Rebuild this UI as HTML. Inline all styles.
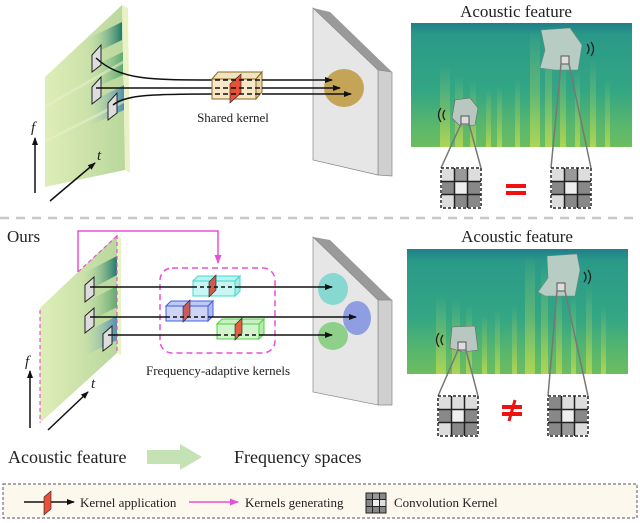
<!DOCTYPE html>
<html><head><meta charset="utf-8"><style>
html,body{margin:0;padding:0;background:#fff;width:640px;height:523px;overflow:hidden}
svg{display:block}
text{font-family:"Liberation Serif",serif;fill:#222}
</style></head><body>
<svg width="640" height="523" viewBox="0 0 640 523" xmlns="http://www.w3.org/2000/svg">
<defs>
<linearGradient id="spec" x1="0" y1="0" x2="0" y2="1">
<stop offset="0" stop-color="#1f7f8a"/><stop offset="0.1" stop-color="#2a9a88"/><stop offset="0.55" stop-color="#33a684"/><stop offset="0.85" stop-color="#5cb86a"/><stop offset="1" stop-color="#6cbc60"/>
</linearGradient>
<linearGradient id="stripe" x1="0" y1="0" x2="0" y2="1">
<stop offset="0" stop-color="#c8e070" stop-opacity="0"/><stop offset="0.5" stop-color="#a8d060" stop-opacity="0.35"/><stop offset="1" stop-color="#c8e050" stop-opacity="0.7"/>
</linearGradient>
<linearGradient id="slab" x1="0" y1="0" x2="1" y2="0">
<stop offset="0" stop-color="#dfeeb8"/><stop offset="1" stop-color="#b9d79c"/>
</linearGradient>
<linearGradient id="band1" x1="0" y1="0" x2="1" y2="0"><stop offset="0" stop-color="#cfe3b0" stop-opacity="0"/><stop offset="1" stop-color="#1f7a6a"/></linearGradient>
<linearGradient id="band2" x1="0" y1="0" x2="1" y2="0"><stop offset="0" stop-color="#cfe3b0" stop-opacity="0"/><stop offset="1" stop-color="#5ea870"/></linearGradient>
<linearGradient id="band3" x1="0" y1="0" x2="1" y2="0"><stop offset="0" stop-color="#cfe3b0" stop-opacity="0"/><stop offset="1" stop-color="#4f8fb0"/></linearGradient>
<marker id="ah" markerWidth="8" markerHeight="8" refX="7" refY="4" orient="auto" markerUnits="userSpaceOnUse"><path d="M0,1 L8,4 L0,7z" fill="#111"/></marker>
<marker id="ahp" markerWidth="9" markerHeight="9" refX="8" refY="4.5" orient="auto" markerUnits="userSpaceOnUse"><path d="M0,1 L9,4.5 L0,8z" fill="#e84fd8"/></marker>
</defs>

<!-- ===== TOP LEFT SLAB ===== -->
<polygon points="122,5 128,8 130,173 125,170" fill="#e9f2c4"/>
<polygon points="45,77 122,5 125,170 45,187" fill="url(#slab)"/>
<polygon points="85,40 122,22 122,40 85,58" fill="url(#band1)"/>
<polygon points="85,70 123,52 123,75 85,92" fill="url(#band2)"/>
<polygon points="85,105 124,85 124,110 85,128" fill="url(#band3)"/>
<polygon points="45,105 124,60 124,63 45,108" fill="#e6f0c8" opacity=".6"/>
<polygon points="45,140 124,100 124,103 45,143" fill="#e6f0c8" opacity=".6"/>
<polygon points="92,55 101,45 101,65 92,72" fill="#ddd" stroke="#222"/>
<polygon points="92,87 101,77 101,97 92,104" fill="#ddd" stroke="#222"/>
<polygon points="108,103 117,93 117,113 108,120" fill="#ddd" stroke="#222"/>
<line x1="35" y1="193" x2="35" y2="138" stroke="#111" stroke-width="1.5" marker-end="url(#ah)"/>
<text x="31" y="132" font-size="15" font-style="italic">f</text>
<line x1="50" y1="201" x2="95" y2="163" stroke="#111" stroke-width="1.5" marker-end="url(#ah)"/>
<text x="97" y="160" font-size="15" font-style="italic">t</text>
<path d="M96,58 C120,80 150,80 215,80" fill="none" stroke="#111" stroke-width="1.5"/>
<path d="M96,88 L215,88" fill="none" stroke="#111" stroke-width="1.5"/>
<path d="M113,105 C125,95 150,94 215,94" fill="none" stroke="#111" stroke-width="1.5"/>
<polygon points="313,8 330,12 392,72 378,70" fill="#9a9a9a"/>
<polygon points="378,70 392,72 392,176 378,175" fill="#cfcfcf" stroke="#888" stroke-width=".7"/>
<polygon points="313,8 378,70 378,175 313,160" fill="#e6e6e6" stroke="#888" stroke-width=".7"/>
<ellipse cx="344" cy="88" rx="20" ry="19" fill="#c4a558"/>
<polygon points="212,79 218,72 262,72 256,79" fill="#f2e3c0" stroke="#8a6a20"/>
<polygon points="256,79 262,72 262,92 256,99" fill="#e8d4a8" stroke="#8a6a20"/>
<rect x="212" y="79" width="44" height="20" fill="#f6e8c8" stroke="#8a6a20"/>
<polygon points="230,84 241,74 241,93 230,103" fill="#e8503a" stroke="#222" stroke-width=".6"/>
<path d="M215,80 H262 M215,88 H262 M215,94 H262" fill="none" stroke="#111" stroke-width="1.5" stroke-dasharray="5,3"/>
<path d="M262,80 L332,80" stroke="#111" stroke-width="1.5" marker-end="url(#ah)"/>
<path d="M262,88 L340,88" stroke="#111" stroke-width="1.5" marker-end="url(#ah)"/>
<path d="M262,94 L351,94" stroke="#111" stroke-width="1.5" marker-end="url(#ah)"/>
<text x="233" y="122" font-size="13" text-anchor="middle">Shared kernel</text>

<!-- ===== TOP RIGHT ===== -->
<text x="516" y="17" font-size="17" text-anchor="middle">Acoustic feature</text>
<rect x="411" y="23" width="221" height="124" fill="url(#spec)"/>
<g fill="url(#stripe)">
<rect x="440" y="65" width="10" height="82"/><rect x="455" y="75" width="8" height="72"/><rect x="470" y="80" width="6" height="67"/><rect x="486" y="90" width="5" height="57"/><rect x="497" y="85" width="5" height="62"/><rect x="530" y="30" width="10" height="117"/><rect x="545" y="40" width="7" height="107"/><rect x="560" y="60" width="6" height="87"/><rect x="575" y="70" width="5" height="77"/><rect x="590" y="60" width="6" height="87"/><rect x="605" y="80" width="5" height="67"/><rect x="515" y="80" width="5" height="67"/>
</g>
<polygon points="541,30 570,28 582,45 578,70 555,70 540,68 545,50" fill="#b7cdc4" stroke="#6a8a80" stroke-width=".6"/>
<path d="M587,44 q4,5 0,10 M591,42 q5,7 0,14" stroke="#222" fill="none" stroke-width="1.3"/>
<rect x="561" y="56" width="8" height="8" fill="#ddd" stroke="#555"/>
<polygon points="455,100 470,98 478,108 475,125 460,126 452,118" fill="#b8c8c0" stroke="#666" stroke-width=".6"/>
<path d="M445,110 q-4,5 0,10 M441,108 q-5,7 0,14" stroke="#222" fill="none" stroke-width="1.3"/>
<rect x="461" y="116" width="8" height="8" fill="#ddd" stroke="#555"/>
<path d="M461,124 L441,168 M469,124 L481,168 M561,64 L551,168 M569,64 L591,168" stroke="#777" stroke-width="1.5" fill="none"/>
<g transform="translate(441,168)">
<rect width="40" height="40" fill="#fff"/>
<rect x="1" y="1" width="12" height="12" fill="#ddd"/><rect x="14" y="1" width="12" height="12" fill="#999"/><rect x="27" y="1" width="12" height="12" fill="#ddd"/>
<rect x="1" y="14" width="12" height="12" fill="#888"/><rect x="14" y="14" width="12" height="12" fill="#eee"/><rect x="27" y="14" width="12" height="12" fill="#888"/>
<rect x="1" y="27" width="12" height="12" fill="#ddd"/><rect x="14" y="27" width="12" height="12" fill="#888"/><rect x="27" y="27" width="12" height="12" fill="#888"/>
<path d="M13.5,0 V40 M26.5,0 V40 M0,13.5 H40 M0,26.5 H40" stroke="#222" stroke-width="1.5"/>
<rect width="40" height="40" fill="none" stroke="#222" stroke-width="1.5" stroke-dasharray="3,2"/>
</g>
<g transform="translate(551,168)">
<rect width="40" height="40" fill="#fff"/>
<rect x="1" y="1" width="12" height="12" fill="#ddd"/><rect x="14" y="1" width="12" height="12" fill="#999"/><rect x="27" y="1" width="12" height="12" fill="#ddd"/>
<rect x="1" y="14" width="12" height="12" fill="#888"/><rect x="14" y="14" width="12" height="12" fill="#eee"/><rect x="27" y="14" width="12" height="12" fill="#888"/>
<rect x="1" y="27" width="12" height="12" fill="#ddd"/><rect x="14" y="27" width="12" height="12" fill="#888"/><rect x="27" y="27" width="12" height="12" fill="#888"/>
<path d="M13.5,0 V40 M26.5,0 V40 M0,13.5 H40 M0,26.5 H40" stroke="#222" stroke-width="1.5"/>
<rect width="40" height="40" fill="none" stroke="#222" stroke-width="1.5" stroke-dasharray="3,2"/>
</g>
<rect x="506" y="184" width="20" height="4" fill="#ee1111"/><rect x="506" y="191" width="20" height="4" fill="#ee1111"/>

<line x1="0" y1="218" x2="640" y2="218" stroke="#c8c8c8" stroke-width="2.5" stroke-dasharray="9,7"/>

<!-- ===== BOTTOM LEFT SLAB ===== -->
<text x="7" y="242" font-size="17">Ours</text>
<polygon points="117,235 121,238 121,355 117,353" fill="#e9f2c4"/>
<polygon points="40,308 117,235 117,353 40,423" fill="url(#slab)"/>
<polygon points="80,275 117,256 117,275 80,295" fill="url(#band1)"/>
<polygon points="80,305 117,286 117,307 80,326" fill="url(#band2)"/>
<polygon points="80,335 117,316 117,340 80,358" fill="url(#band3)"/>
<path d="M40,310 L40,423 M117,236 L78,272" stroke="#e84fd8" stroke-width="1.2" stroke-dasharray="4,3" fill="none"/>
<path d="M117,235 V353" stroke="#e84fd8" stroke-width="1.2" stroke-dasharray="4,3"/>
<polygon points="85,285 94,277 94,295 85,302" fill="#ddd" stroke="#222"/>
<polygon points="85,316 94,308 94,326 85,333" fill="#ddd" stroke="#222"/>
<polygon points="103,334 112,326 112,344 103,351" fill="#ddd" stroke="#222"/>
<line x1="30" y1="428" x2="30" y2="371" stroke="#111" stroke-width="1.5" marker-end="url(#ah)"/>
<text x="25" y="366" font-size="15" font-style="italic">f</text>
<line x1="48" y1="430" x2="88" y2="392" stroke="#111" stroke-width="1.5" marker-end="url(#ah)"/>
<text x="91" y="388" font-size="15" font-style="italic">t</text>
<path d="M78,272 V231 H218 V263" fill="none" stroke="#e84fd8" stroke-width="1.5" marker-end="url(#ahp)"/>
<rect x="160" y="268" width="115" height="85" rx="12" fill="none" stroke="#e84fd8" stroke-width="1.5" stroke-dasharray="6,4"/>
<polygon points="313,237 330,240 392,300 378,300" fill="#9a9a9a"/>
<polygon points="378,300 392,300 392,405 378,405" fill="#cfcfcf" stroke="#888" stroke-width=".7"/>
<polygon points="313,237 378,300 378,405 313,392" fill="#e6e6e6" stroke="#888" stroke-width=".7"/>
<ellipse cx="333" cy="289" rx="15" ry="16" fill="#86d8d0"/>
<ellipse cx="357" cy="318" rx="14" ry="17" fill="#8f9ee0"/>
<ellipse cx="333" cy="336" rx="15" ry="14" fill="#8ed08a"/>
<g stroke-width="1">
<polygon points="193,281 198,276 240,276 235,281" fill="#b8f4f0" stroke="#40d8d0"/>
<polygon points="235,281 240,276 240,291 235,296" fill="#a8ece6" stroke="#40d8d0"/>
<rect x="193" y="281" width="42" height="15" fill="#c8f6f2" stroke="#40d8d0"/>
<polygon points="209,282 216,275 216,290 209,297" fill="#d05a50" stroke="#222" stroke-width=".6"/>
<polygon points="166,306 171,301 213,301 208,306" fill="#c0c8f4" stroke="#4060e0"/>
<polygon points="208,306 213,301 213,316 208,321" fill="#b0b8f0" stroke="#4060e0"/>
<rect x="166" y="306" width="42" height="15" fill="#cdd4f6" stroke="#4060e0"/>
<polygon points="183,307 190,300 190,315 183,322" fill="#c85a60" stroke="#222" stroke-width=".6"/>
<polygon points="217,324 222,319 264,319 259,324" fill="#c8f0c0" stroke="#50d040"/>
<polygon points="259,324 264,319 264,334 259,339" fill="#b8e8b0" stroke="#50d040"/>
<rect x="217" y="324" width="42" height="15" fill="#d2f4cc" stroke="#50d040"/>
<polygon points="235,325 242,318 242,333 235,340" fill="#e06040" stroke="#222" stroke-width=".6"/>
</g>
<path d="M90,287 H193 M90,317 H166 M108,335 H217" stroke="#111" stroke-width="1.5"/>
<path d="M193,287 H235 M166,317 H208 M217,335 H259" stroke="#111" stroke-width="1.5" stroke-dasharray="4,3"/>
<path d="M235,287 H332" stroke="#111" stroke-width="1.5" marker-end="url(#ah)"/>
<path d="M208,317 H356" stroke="#111" stroke-width="1.5" marker-end="url(#ah)"/>
<path d="M259,335 H332" stroke="#111" stroke-width="1.5" marker-end="url(#ah)"/>
<text x="218" y="375" font-size="13" text-anchor="middle">Frequency-adaptive kernels</text>

<!-- ===== BOTTOM RIGHT ===== -->
<text x="517" y="242" font-size="17" text-anchor="middle">Acoustic feature</text>
<rect x="407" y="249" width="221" height="125" fill="url(#spec)"/>
<g fill="url(#stripe)">
<rect x="436" y="295" width="10" height="79"/><rect x="452" y="300" width="8" height="74"/><rect x="466" y="305" width="6" height="69"/><rect x="482" y="315" width="5" height="59"/><rect x="495" y="310" width="5" height="64"/><rect x="525" y="255" width="10" height="119"/><rect x="541" y="265" width="7" height="109"/><rect x="556" y="285" width="6" height="89"/><rect x="571" y="295" width="5" height="79"/><rect x="586" y="285" width="6" height="89"/><rect x="601" y="305" width="5" height="69"/><rect x="512" y="305" width="5" height="69"/>
</g>
<polygon points="547,256 577,254 580,270 575,296 545,296 538,292 548,278" fill="#b7cdc4" stroke="#6a8a80" stroke-width=".6"/>
<path d="M584,272 q4,5 0,10 M588,270 q5,7 0,14" stroke="#222" fill="none" stroke-width="1.3"/>
<rect x="557" y="283" width="8" height="8" fill="#ddd" stroke="#555"/>
<polygon points="452,327 475,326 478,350 463,352 450,348" fill="#b8c8c0" stroke="#666" stroke-width=".6"/>
<path d="M443,335 q-4,5 0,10 M439,333 q-5,7 0,14" stroke="#222" fill="none" stroke-width="1.3"/>
<rect x="458" y="342" width="8" height="8" fill="#ddd" stroke="#555"/>
<path d="M458,350 L438,396 M466,350 L478,396 M557,291 L548,396 M565,291 L588,396" stroke="#777" stroke-width="1.5" fill="none"/>
<g transform="translate(438,396)">
<rect width="40" height="40" fill="#fff"/>
<rect x="1" y="1" width="12" height="12" fill="#ddd"/><rect x="14" y="1" width="12" height="12" fill="#ddd"/><rect x="27" y="1" width="12" height="12" fill="#ddd"/>
<rect x="1" y="14" width="12" height="12" fill="#888"/><rect x="14" y="14" width="12" height="12" fill="#eee"/><rect x="27" y="14" width="12" height="12" fill="#888"/>
<rect x="1" y="27" width="12" height="12" fill="#ddd"/><rect x="14" y="27" width="12" height="12" fill="#888"/><rect x="27" y="27" width="12" height="12" fill="#888"/>
<path d="M13.5,0 V40 M26.5,0 V40 M0,13.5 H40 M0,26.5 H40" stroke="#222" stroke-width="1.5"/>
<rect width="40" height="40" fill="none" stroke="#222" stroke-width="1.5" stroke-dasharray="3,2"/>
</g>
<g transform="translate(548,396)">
<rect width="40" height="40" fill="#fff"/>
<rect x="1" y="1" width="12" height="12" fill="#888"/><rect x="14" y="1" width="12" height="12" fill="#ddd"/><rect x="27" y="1" width="12" height="12" fill="#ddd"/>
<rect x="1" y="14" width="12" height="12" fill="#888"/><rect x="14" y="14" width="12" height="12" fill="#eee"/><rect x="27" y="14" width="12" height="12" fill="#888"/>
<rect x="1" y="27" width="12" height="12" fill="#888"/><rect x="14" y="27" width="12" height="12" fill="#999"/><rect x="27" y="27" width="12" height="12" fill="#ddd"/>
<path d="M13.5,0 V40 M26.5,0 V40 M0,13.5 H40 M0,26.5 H40" stroke="#222" stroke-width="1.5"/>
<rect width="40" height="40" fill="none" stroke="#222" stroke-width="1.5" stroke-dasharray="3,2"/>
</g>
<rect x="502" y="405" width="20" height="4" fill="#ee1111"/><rect x="502" y="412" width="20" height="4" fill="#ee1111"/>
<line x1="515" y1="400" x2="509" y2="421" stroke="#ee1111" stroke-width="3"/>

<text x="8" y="463" font-size="18">Acoustic feature</text>
<polygon points="147,450 180,450 180,444 202,457 180,470 180,464 147,464" fill="#c4e2b4"/>
<text x="234" y="463" font-size="18">Frequency spaces</text>

<rect x="3" y="484" width="634" height="34" fill="#fdf8ee" stroke="#556" stroke-width="1" stroke-dasharray="3,2"/>
<line x1="24" y1="502" x2="74" y2="502" stroke="#111" stroke-width="1.5" marker-end="url(#ah)"/>
<polygon points="44,497 51,491 51,509 44,515" fill="#e8503a" stroke="#222" stroke-width=".6"/>
<text x="80" y="507" font-size="13">Kernel application</text>
<line x1="189" y1="502" x2="238" y2="502" stroke="#e84fd8" stroke-width="1.5" marker-end="url(#ahp)"/>
<text x="245" y="507" font-size="13">Kernels generating</text>
<g transform="translate(366,493)">
<rect width="20" height="20" fill="#fff"/>
<rect x="0" y="0" width="7" height="7" fill="#888"/><rect x="7" y="0" width="6" height="7" fill="#999"/><rect x="13" y="0" width="7" height="7" fill="#888"/>
<rect x="0" y="7" width="7" height="6" fill="#888"/><rect x="7" y="7" width="6" height="6" fill="#eee"/><rect x="13" y="7" width="7" height="6" fill="#ddd"/>
<rect x="0" y="13" width="7" height="7" fill="#888"/><rect x="7" y="13" width="6" height="7" fill="#888"/><rect x="13" y="13" width="7" height="7" fill="#888"/>
<path d="M6.5,0 V20 M13.5,0 V20 M0,6.5 H20 M0,13.5 H20" stroke="#222" stroke-width="1"/>
<rect width="20" height="20" fill="none" stroke="#222" stroke-width="1"/>
</g>
<text x="394" y="507" font-size="13">Convolution Kernel</text>
</svg>
</body></html>
